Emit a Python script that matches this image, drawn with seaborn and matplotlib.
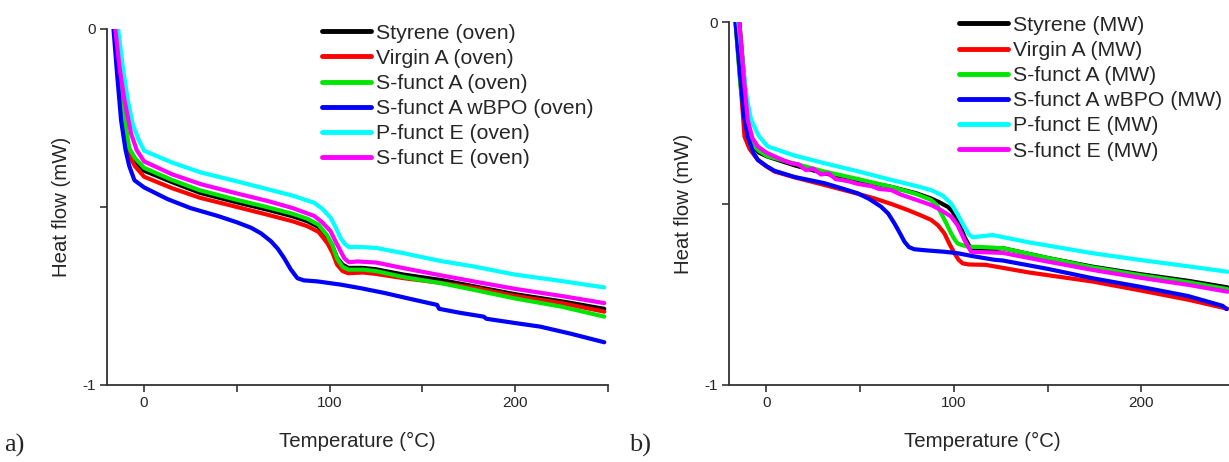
import numpy as np
import pandas as pd
import seaborn as sns
import matplotlib.pyplot as plt
from matplotlib.ticker import MultipleLocator, FixedLocator
from matplotlib.lines import Line2D

# ---- data (temperature in degC, heat flow in mW) ----
# a) oven cured
oven_sty_t = [-15, -12.5, -10, -8, -5, 0, 15, 30, 50, 66, 80, 88, 94, 98.7, 101.5, 104, 107, 110, 118, 125, 140, 160, 178, 200, 225, 248]
oven_sty_hf = [0, -0.15, -0.28, -0.345, -0.37, -0.398, -0.43, -0.46, -0.487, -0.507, -0.526, -0.54, -0.556, -0.585, -0.61, -0.643, -0.662, -0.671, -0.671, -0.675, -0.69, -0.705, -0.723, -0.745, -0.765, -0.786]
oven_vira_t = [-15, -12.5, -10, -8, -5, 0, 15, 30, 50, 66, 80, 88, 94, 98.7, 101.5, 104, 107, 110, 118, 125, 140, 160, 178, 200, 225, 248]
oven_vira_hf = [0, -0.16, -0.29, -0.355, -0.385, -0.415, -0.447, -0.474, -0.50, -0.521, -0.54, -0.554, -0.57, -0.601, -0.628, -0.662, -0.68, -0.686, -0.684, -0.688, -0.70, -0.713, -0.727, -0.75, -0.77, -0.794]
oven_sfa_t = [-15, -12.5, -10, -8, -5, 0, 15, 30, 50, 66, 80, 88, 94, 98.7, 101.5, 104, 107, 110, 118, 125, 140, 160, 178, 200, 225, 248]
oven_sfa_hf = [0, -0.15, -0.27, -0.335, -0.362, -0.39, -0.424, -0.453, -0.48, -0.50, -0.519, -0.533, -0.55, -0.58, -0.607, -0.645, -0.668, -0.676, -0.676, -0.68, -0.697, -0.714, -0.733, -0.757, -0.78, -0.808]
oven_bpo_t = [-16.5, -14.5, -12.4, -10, -8, -5.2, 0, 12.7, 25, 39.6, 50, 57.5, 63, 68.3, 72, 75.4, 79, 82.6, 86, 93.4, 105.9, 116.7, 130, 145, 157.9, 159, 170, 183, 184.5, 200, 213.4, 230, 248]
oven_bpo_hf = [0, -0.13, -0.257, -0.34, -0.385, -0.425, -0.445, -0.478, -0.503, -0.525, -0.543, -0.558, -0.574, -0.596, -0.617, -0.643, -0.675, -0.700, -0.706, -0.709, -0.718, -0.728, -0.742, -0.76, -0.775, -0.786, -0.797, -0.808, -0.814, -0.826, -0.836, -0.856, -0.880]
oven_pfe_t = [-14, -11.5, -8.8, -6, -3, 0, 15, 30.6, 50, 66.5, 80, 91.6, 96, 100.5, 103, 105.9, 108, 110.4, 115, 125, 140, 160, 177.6, 200, 225, 248]
oven_pfe_hf = [0, -0.106, -0.2, -0.27, -0.31, -0.342, -0.375, -0.403, -0.428, -0.45, -0.468, -0.488, -0.505, -0.530, -0.555, -0.587, -0.603, -0.613, -0.612, -0.615, -0.63, -0.652, -0.667, -0.69, -0.708, -0.726]
oven_sfe_t = [-15.5, -13.3, -10.6, -7, -4, 0, 15, 30.6, 50, 66.5, 80, 91.6, 96, 100.5, 103, 105.9, 108, 110.4, 115, 125, 140, 160, 177.6, 200, 225, 248]
oven_sfe_hf = [0, -0.106, -0.2, -0.294, -0.34, -0.372, -0.408, -0.436, -0.462, -0.483, -0.503, -0.525, -0.543, -0.568, -0.595, -0.624, -0.645, -0.655, -0.653, -0.656, -0.672, -0.692, -0.709, -0.73, -0.75, -0.77]

# b) microwave cured
mw_sty_t = [-14.5, -12, -10, -8.2, -4, 0.7, 15, 30.9, 50, 66.5, 80, 87.8, 92, 96.7, 99, 102, 105.6, 108, 110, 119.8, 126, 150, 174, 200, 225, 246]
mw_sty_hf = [0, -0.15, -0.27, -0.335, -0.36, -0.371, -0.395, -0.417, -0.437, -0.454, -0.472, -0.486, -0.496, -0.509, -0.52, -0.545, -0.591, -0.615, -0.625, -0.627, -0.623, -0.65, -0.674, -0.695, -0.713, -0.731]
mw_vira_t = [-16.5, -14, -11.7, -9, -4.6, 0, 4.3, 15, 30.9, 45, 57.6, 67, 75.4, 82, 87.8, 91.5, 94.9, 97.5, 100.3, 102.5, 104.7, 108, 117, 140, 174, 200, 225, 246]
mw_vira_hf = [0, -0.16, -0.316, -0.35, -0.38, -0.398, -0.412, -0.428, -0.449, -0.468, -0.486, -0.502, -0.518, -0.532, -0.545, -0.56, -0.582, -0.61, -0.637, -0.655, -0.665, -0.668, -0.669, -0.69, -0.715, -0.74, -0.765, -0.79]
mw_sfa_t = [-16.5, -14, -11, -8.2, -4, 0.7, 15, 30.9, 50, 66.5, 80, 87.8, 91, 93.2, 96, 98.5, 100.5, 102, 104, 107.5, 115, 126, 150, 174, 200, 225, 246]
mw_sfa_hf = [0, -0.17, -0.28, -0.334, -0.355, -0.37, -0.39, -0.412, -0.434, -0.454, -0.474, -0.49, -0.505, -0.527, -0.555, -0.582, -0.6, -0.61, -0.614, -0.619, -0.62, -0.623, -0.65, -0.676, -0.698, -0.717, -0.736]
mw_bpo_t = [-16.5, -14, -12, -10, -7, -4.6, 0, 4.3, 15, 30.9, 40, 48.7, 55, 61.2, 65, 68.3, 71, 73.6, 76, 78.9, 85, 95, 102, 110, 121.6, 126, 150, 174, 200, 225, 243.4, 245.5]
mw_bpo_hf = [0, -0.15, -0.26, -0.316, -0.36, -0.38, -0.397, -0.41, -0.427, -0.444, -0.458, -0.472, -0.488, -0.509, -0.528, -0.555, -0.58, -0.605, -0.62, -0.626, -0.629, -0.633, -0.637, -0.645, -0.655, -0.657, -0.68, -0.706, -0.73, -0.755, -0.782, -0.791]
mw_pfe_t = [-15, -12.5, -10.5, -8.2, -4, 0.7, 15, 30.9, 50, 66.5, 80, 87.8, 94, 98.5, 102, 105.6, 108, 110, 115, 120.7, 140, 174, 200, 225, 246]
mw_pfe_hf = [0, -0.12, -0.21, -0.27, -0.315, -0.343, -0.368, -0.389, -0.413, -0.435, -0.452, -0.463, -0.478, -0.5, -0.53, -0.564, -0.585, -0.593, -0.59, -0.587, -0.607, -0.637, -0.656, -0.673, -0.688]
mw_sfe_t = [-14.5, -12, -10, -7.5, -4.6, 0, 5, 10, 13.2, 17, 21, 25, 29, 33, 37, 39.8, 44, 48, 52, 56, 60, 66.5, 72, 80, 87.8, 93, 98.5, 102, 105.6, 109.2, 115, 126, 150, 174, 200, 225, 246]
mw_sfe_hf = [0, -0.16, -0.27, -0.32, -0.343, -0.36, -0.372, -0.383, -0.389, -0.392, -0.408, -0.404, -0.42, -0.417, -0.433, -0.435, -0.439, -0.445, -0.449, -0.452, -0.46, -0.463, -0.476, -0.49, -0.504, -0.518, -0.536, -0.56, -0.6, -0.633, -0.634, -0.636, -0.66, -0.683, -0.705, -0.724, -0.743]

samples = ["Styrene", "Virgin A", "S-funct A", "S-funct A wBPO", "P-funct E", "S-funct E"]
colors = ["#000000", "#ff0000", "#00e600", "#0000ff", "#00ffff", "#ff00ff"]

oven_series = [(oven_sty_t, oven_sty_hf), (oven_vira_t, oven_vira_hf), (oven_sfa_t, oven_sfa_hf),
               (oven_bpo_t, oven_bpo_hf), (oven_pfe_t, oven_pfe_hf), (oven_sfe_t, oven_sfe_hf)]
mw_series = [(mw_sty_t, mw_sty_hf), (mw_vira_t, mw_vira_hf), (mw_sfa_t, mw_sfa_hf),
             (mw_bpo_t, mw_bpo_hf), (mw_pfe_t, mw_pfe_hf), (mw_sfe_t, mw_sfe_hf)]


def to_frame(series, tag):
    parts = []
    for name, (t, hf) in zip(samples, series):
        parts.append(pd.DataFrame({"T": t, "HF": hf, "sample": f"{name} ({tag})"}))
    return pd.concat(parts, ignore_index=True)


sns.set_theme(style="ticks")
plt.rcParams["font.family"] = ["Liberation Sans", "DejaVu Sans"]
plt.rcParams["axes.unicode_minus"] = False

fig = plt.figure(figsize=(12.29, 4.62), dpi=100)
ax_a = fig.add_axes([107 / 1229, 1 - 385 / 462, 501 / 1229, 356 / 462])
ax_b = fig.add_axes([729 / 1229, 1 - 385 / 462, 506 / 1229, 363 / 462])

for ax, series, tag, leg_x, leg_y in [(ax_a, oven_series, "oven", 0.4285, 1.015),
                                       (ax_b, mw_series, "MW", 0.455, 1.017)]:
    df = to_frame(series, tag)
    sns.lineplot(data=df, x="T", y="HF", hue="sample", palette=colors, sort=False,
                 estimator=None, linewidth=3, legend=False, ax=ax)
    ax.set_xlim(-20, 250)
    ax.set_ylim(-1, 0)
    ax.xaxis.set_major_locator(MultipleLocator(100))
    ax.xaxis.set_minor_locator(MultipleLocator(50))
    ax.yaxis.set_major_locator(FixedLocator([-1, 0]))
    ax.yaxis.set_minor_locator(FixedLocator([-0.5]))
    ax.set_yticklabels(["-1", "0"])
    ax.tick_params(which="both", direction="out", length=5, width=1.2, color="#333333",
                   labelsize=11, pad=3)
    for s in ["left", "bottom"]:
        ax.spines[s].set_linewidth(1.3)
        ax.spines[s].set_color("#333333")
    sns.despine(ax=ax)
    ax.set_xlabel("Temperature (°C)", fontsize=14.7, labelpad=15.5)
    ax.set_ylabel("Heat flow (mW)", fontsize=14.7, labelpad=8)
    handles = [Line2D([], [], color=c, lw=3.5) for c in colors]
    labels = [f"{n} ({tag})" for n in samples]
    ax.legend(handles, labels, loc="upper left", bbox_to_anchor=(leg_x, leg_y), frameon=False,
              fontsize=15.3, handlelength=2.3, handletextpad=0.24, labelspacing=0.29,
              borderpad=0, borderaxespad=0)

fig.text(0.003, 0.022, "a)", fontsize=19, family="Liberation Serif")
fig.text(0.512, 0.022, "b)", fontsize=19, family="Liberation Serif")

fig.savefig("out.png", dpi=100)
